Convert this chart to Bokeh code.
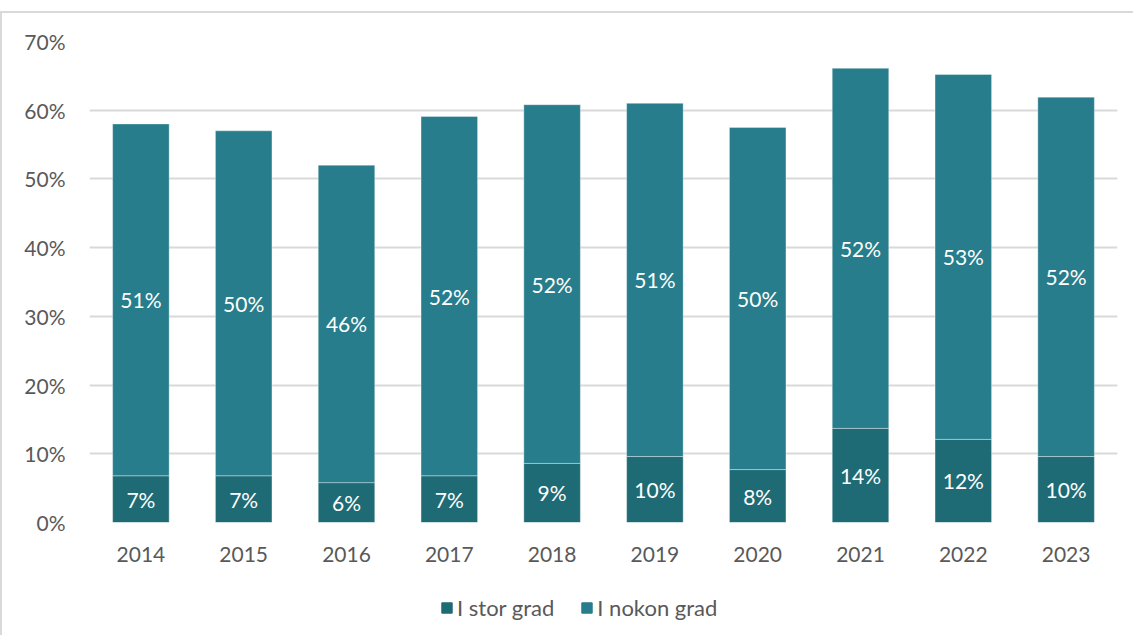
from bokeh.plotting import figure
from bokeh.layouts import column
from bokeh.models import (ColumnDataSource, Range1d, PrintfTickFormatter, LabelSet, Legend,
                          LegendItem, FixedTicker)
from bokeh.core.properties import value
from bokeh.embed import file_html
from bokeh.resources import INLINE

years = ["2014", "2015", "2016", "2017", "2018", "2019", "2020", "2021", "2022", "2023"]
stor_grad = [6.8, 6.8, 5.8, 6.8, 8.6, 9.6, 7.7, 13.7, 12.1, 9.6]
nokon_grad = [51.2, 50.2, 46.2, 52.3, 52.2, 51.4, 49.8, 52.4, 53.1, 52.3]
series_names = ["I stor grad", "I nokon grad"]
y_ticks = [0, 10, 20, 30, 40, 50, 60, 70]

C_STOR = "#1f6b75"
C_NOKON = "#277d8b"
FONT = "Lato"

src = ColumnDataSource(dict(
    year=years,
    stor=stor_grad,
    nokon=nokon_grad,
    stor_mid=[s / 2 for s in stor_grad],
    nokon_mid=[s + n / 2 for s, n in zip(stor_grad, nokon_grad)],
    stor_lbl=[f"{round(s)}%" for s in stor_grad],
    nokon_lbl=[f"{round(n)}%" for n in nokon_grad],
))

p = figure(x_range=years, y_range=Range1d(0, 70), width=1131, height=567,
           output_backend="svg", toolbar_location=None,
           min_border_left=87, min_border_right=16, min_border_top=28, min_border_bottom=58)
p.outline_line_color = None
p.background_fill_color = "white"
p.border_fill_color = "white"

r = p.vbar_stack(["stor", "nokon"], x="year", width=0.55, source=src,
                 color=[C_STOR, C_NOKON], line_color="white", line_alpha=0.35, line_width=1)

for col_y, col_t in (("stor_mid", "stor_lbl"), ("nokon_mid", "nokon_lbl")):
    p.add_layout(LabelSet(x="year", y=col_y, text=col_t, source=src,
                          text_color="white", text_font=value(FONT), text_font_size="21px",
                          text_align="center", text_baseline="middle"))

p.yaxis.ticker = FixedTicker(ticks=y_ticks)
p.yaxis.formatter = PrintfTickFormatter(format="%d%%")
for ax in (p.xaxis[0], p.yaxis[0]):
    ax.axis_line_color = None
    ax.major_tick_line_color = None
    ax.minor_tick_line_color = None
    ax.major_label_text_font = FONT
    ax.major_label_text_font_size = "21px"
    ax.major_label_text_color = "#595959"
p.yaxis.major_label_standoff = 18
p.xaxis.major_label_standoff = 18
p.xgrid.grid_line_color = None
p.ygrid.grid_line_color = "#d9d9d9"
p.ygrid.grid_line_width = 2

# legend strip (proxy glyphs lie outside the strip's visible range)
pl = figure(x_range=Range1d(0, 1), y_range=Range1d(0, 1), width=1131, height=55,
            output_backend="svg", toolbar_location=None,
            min_border_left=0, min_border_right=0, min_border_top=0, min_border_bottom=0)
pl.axis.visible = False
pl.grid.visible = False
pl.outline_line_color = None
lr = [pl.vbar(x=[-5], top=[-5], width=0.5, color=c) for c in (C_STOR, C_NOKON)]
legend = Legend(items=[LegendItem(label=series_names[i], renderers=[lr[i]]) for i in range(2)],
                orientation="horizontal", location=(351, 14),
                label_text_font=FONT, label_text_font_size="22px", label_text_color="#595959",
                glyph_width=13, glyph_height=13, label_standoff=4, spacing=26,
                border_line_color=None, background_fill_alpha=0, margin=0, padding=0)
pl.add_layout(legend, "center")

layout = column(p, pl, spacing=0,
                styles={"border-left": "2px solid #d9d9d9", "border-top": "2px solid #d9d9d9",
                        "margin-top": "11px"})

open("out.html", "w").write(file_html(layout, INLINE))
